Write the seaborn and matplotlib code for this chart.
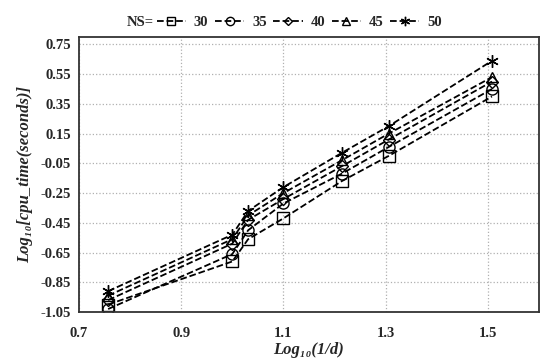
import pandas as pd
import numpy as np
import seaborn as sns
import matplotlib.pyplot as plt

sns.set_style("white")
plt.rcParams['font.family'] = ['Liberation Serif', 'DejaVu Serif']
plt.rcParams['font.weight'] = 'bold'

# data
log_inv_d = [0.757, 1.0, 1.031, 1.1, 1.214, 1.306, 1.508]
ns_values = [30, 35, 40, 45, 50]
cpu_30 = [-1.00, -0.71, -0.56, -0.42, -0.17, 0.00, 0.40]
cpu_35 = [-1.03, -0.66, -0.50, -0.32, -0.12, 0.06, 0.45]
cpu_40 = [-0.97, -0.59, -0.43, -0.29, -0.07, 0.11, 0.50]
cpu_45 = [-0.94, -0.56, -0.40, -0.25, -0.03, 0.15, 0.53]
cpu_50 = [-0.91, -0.53, -0.37, -0.21, 0.02, 0.20, 0.64]

series = [cpu_30, cpu_35, cpu_40, cpu_45, cpu_50]
df = pd.DataFrame({
    "x": log_inv_d * len(ns_values),
    "y": sum(series, []),
    "NS": np.repeat([str(n) for n in ns_values], len(log_inv_d)),
})

marks = {"30": "s", "35": "o", "40": "D", "45": "^", "50": (6, 2, 0)}
sizes = {"30": 8, "35": 8, "40": 6, "45": 7, "50": 9}

fig = plt.figure(figsize=(5.5, 3.6), dpi=100)
ax = fig.add_axes([0.1436, 0.1333, 0.8364, 0.764])

for ns in [str(n) for n in ns_values]:
    sub = df[df["NS"] == ns]
    sns.lineplot(data=sub, x="x", y="y", ax=ax, color="black", linestyle="--",
                 linewidth=1.3, marker=marks[ns], markersize=sizes[ns],
                 markerfacecolor="none", markeredgecolor="black",
                 markeredgewidth=1.0, label=ns)

ax.set_xlim(0.7, 1.6)
ax.set_ylim(-1.05, 0.80)
ax.set_xticks(np.arange(0.7, 1.51, 0.2))
ax.set_xticklabels(["0.7", "0.9", "1.1", "1.3", "1.5"])
yt = np.arange(-1.05, 0.76, 0.2)
ax.set_yticks(yt)
ax.set_yticklabels([f"{v:.2f}" for v in yt])
ax.tick_params(axis='y', labelsize=10.5, length=0, pad=6)
ax.tick_params(axis='x', labelsize=10.5, length=0, pad=11)
for lab in ax.get_xticklabels() + ax.get_yticklabels():
    lab.set_fontweight('bold')

ax.grid(True, color="#b0b0b0", linestyle=":", linewidth=0.9)
for s in ax.spines.values():
    s.set_color("#333333")
    s.set_linewidth(1.3)

ax.set_xlabel("Log\u2081\u2080(1/d)", fontsize=12, fontweight='bold', style='italic', labelpad=1)
ax.set_ylabel("Log\u2081\u2080[cpu_time(seconds)]", fontsize=12, fontweight='bold', style='italic', labelpad=5)

handles, labels = ax.get_legend_handles_labels()
ax.get_legend().remove()
leg = fig.legend(handles, labels, ncol=5, loc="center left", bbox_to_anchor=(0.285, 0.937),
                 frameon=False, fontsize=10.5, handlelength=2.0, columnspacing=0.45,
                 handletextpad=0.55, markerscale=0.75, borderaxespad=0, borderpad=0)
for t in leg.get_texts():
    t.set_fontweight('bold')
fig.text(0.28, 0.937, "NS=", fontsize=10.5, fontweight='bold', ha='right', va='center')

plt.savefig("out.png", dpi=100)
